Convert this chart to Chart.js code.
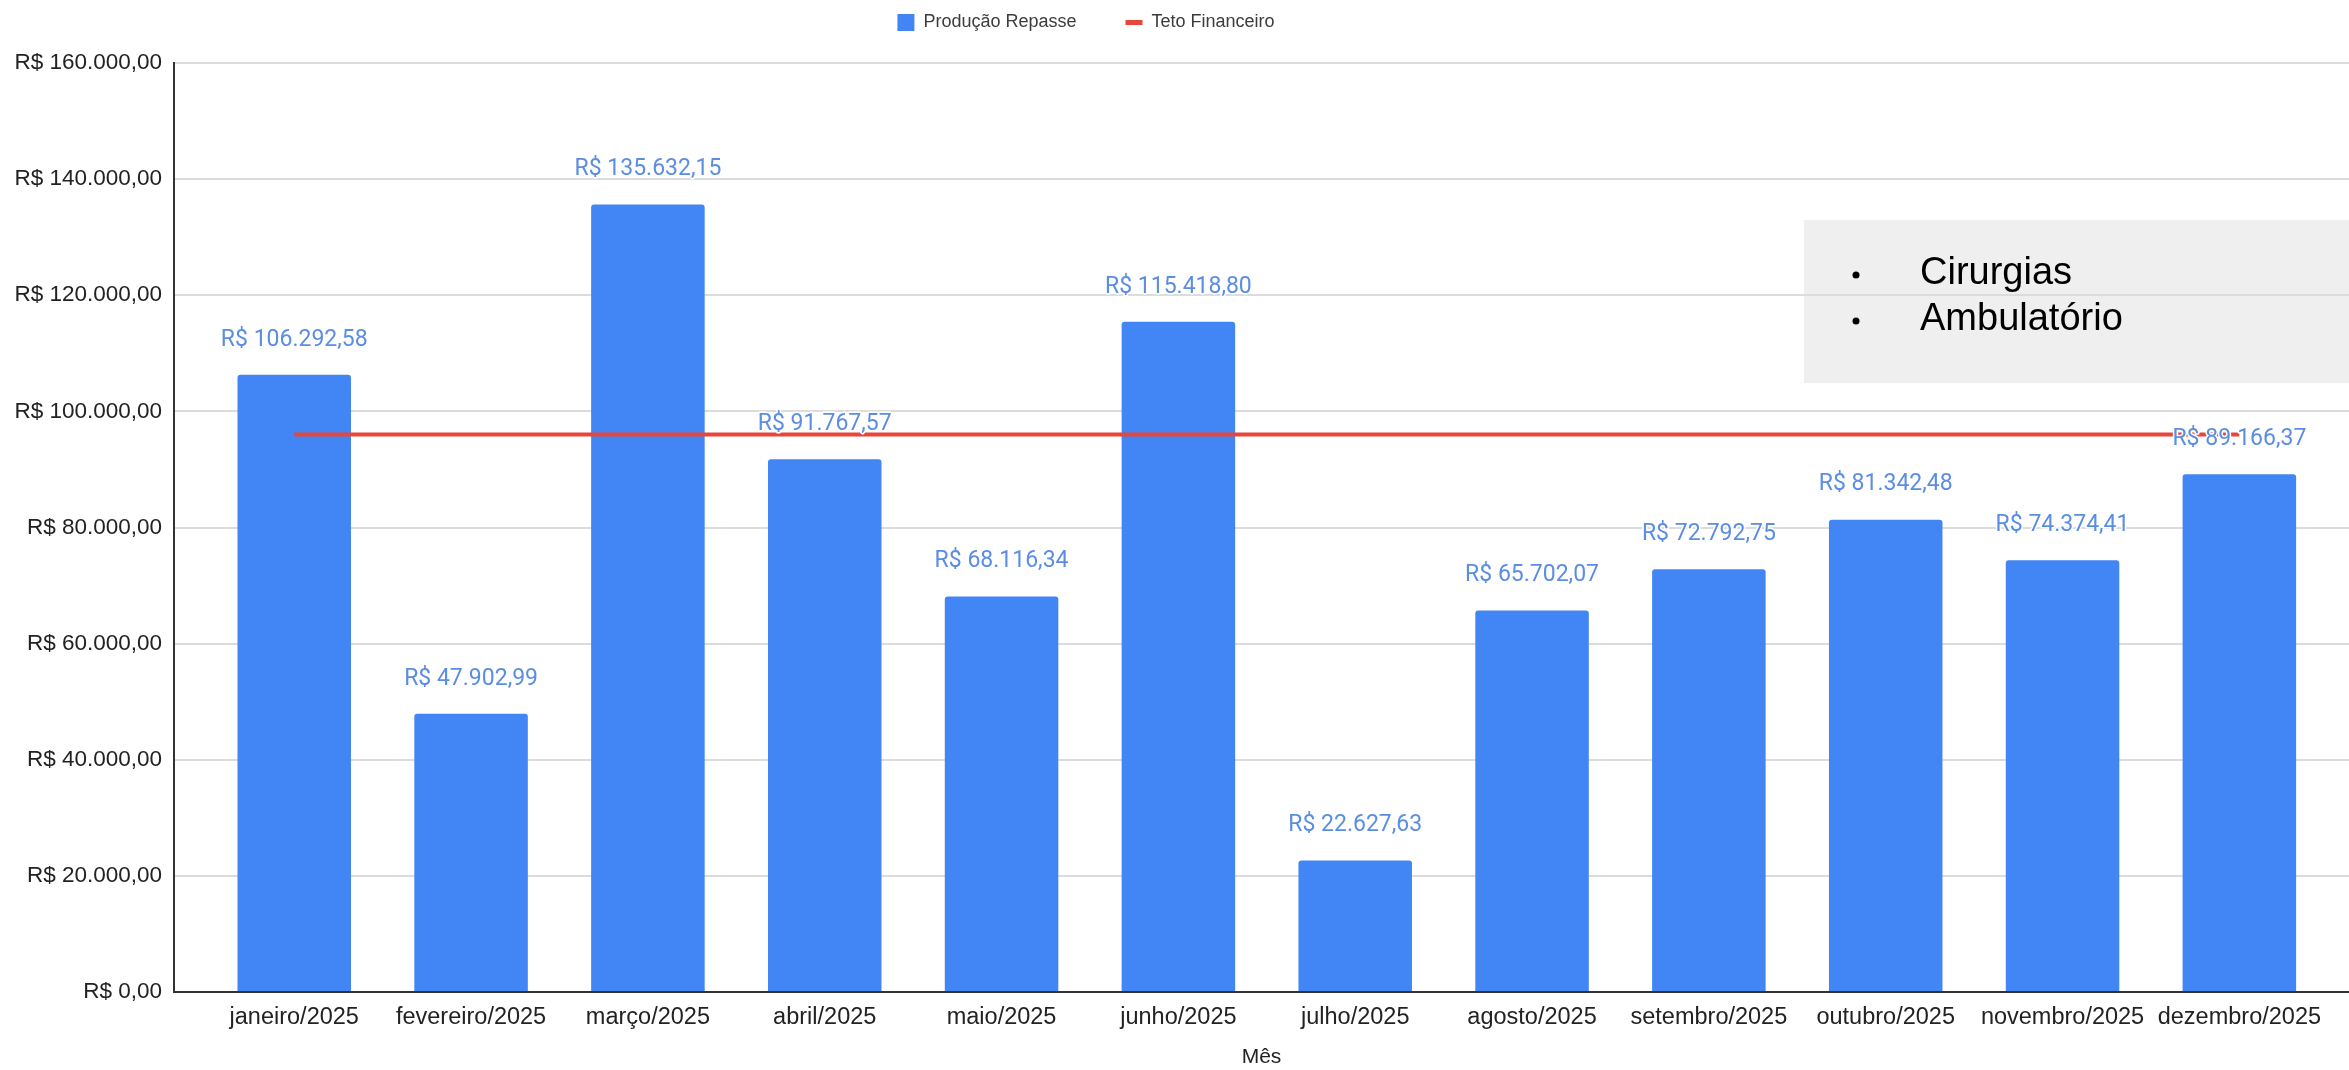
<!DOCTYPE html>
<html>
<head>
<meta charset="utf-8">
<script src="https://cdn.jsdelivr.net/npm/chart.js@4/dist/chart.umd.min.js"></script>
<style>
  html, body { margin: 0; padding: 0; background: #ffffff; }
  #wrap { width: 2349px; height: 1070px; position: relative; }
</style>
</head>
<body>
<div id="wrap"><canvas id="c" width="2349" height="1070"></canvas></div>
<script>
// ---- data ----
const months = ['janeiro/2025', 'fevereiro/2025', 'março/2025', 'abril/2025', 'maio/2025', 'junho/2025',
                'julho/2025', 'agosto/2025', 'setembro/2025', 'outubro/2025', 'novembro/2025', 'dezembro/2025'];
const producaoRepasse = [106292.58, 47902.99, 135632.15, 91767.57, 68116.34, 115418.80,
                         22627.63, 65702.07, 72792.75, 81342.48, 74374.41, 89166.37];
const tetoFinanceiro = [96000, 96000, 96000, 96000, 96000, 96000, 96000, 96000, 96000, 96000, 96000, 96000];
const yTickValues = [0, 20000, 40000, 60000, 80000, 100000, 120000, 140000, 160000];
const seriesNames = ['Produção Repasse', 'Teto Financeiro'];
const xAxisTitle = 'Mês';
const noteItems = ['Cirurgias', 'Ambulatório'];

// ---- helpers ----
function brl(v) {
  const s = Math.abs(v).toFixed(2);
  let [i, d] = s.split('.');
  i = i.replace(/\B(?=(\d{3})+(?!\d))/g, '.');
  return (v < 0 ? '-' : '') + 'R$ ' + i + ',' + d;
}

const BLUE = '#4285f4';
const RED = '#e8453c';
const SANS = '"Liberation Sans", Arial, sans-serif';
const PAD_LEFT = -177;
const PAD_TOP = -35.5;
const CHART_TOP = 63;
const CHART_LEFT = 174;

const legendHeightPlugin = {
  id: 'legendHeight',
  beforeLayout(chart) {
    const lg = chart.legend;
    if (lg && !lg.__patched) {
      const orig = lg.fit;
      lg.fit = function () { orig.call(this); this.height = CHART_TOP - PAD_TOP; };
      lg.__patched = true;
    }
  }
};

const noteBoxPlugin = {
  id: 'noteBox',
  beforeDraw(chart) {
    const ctx = chart.ctx;
    ctx.save();
    ctx.fillStyle = '#efefef';
    ctx.fillRect(1804, 220, 2349 - 1804, 163);
    ctx.fillStyle = '#000000';
    ctx.font = '38px ' + SANS;
    ctx.textAlign = 'left';
    ctx.textBaseline = 'alphabetic';
    noteItems.forEach((t, k) => {
      const base = 284 + k * 46;
      ctx.beginPath();
      ctx.arc(1856, base - 9, 3.5, 0, Math.PI * 2);
      ctx.fill();
      ctx.fillText(t, 1920, base);
    });
    ctx.restore();
  }
};

const dataLabelPlugin = {
  id: 'dataLabels',
  afterDatasetsDraw(chart) {
    const ctx = chart.ctx;
    const meta = chart.getDatasetMeta(0);
    ctx.save();
    ctx.font = '23px Roboto, "Noto Sans", sans-serif';
    ctx.textAlign = 'center';
    ctx.textBaseline = 'middle';
    ctx.lineJoin = 'round';
    meta.data.forEach((bar, i) => {
      const txt = brl(producaoRepasse[i]);
      ctx.strokeStyle = '#ffffff';
      ctx.lineWidth = 3;
      ctx.strokeText(txt, bar.x, bar.y - 35);
      ctx.fillStyle = '#5b8de2';
      ctx.fillText(txt, bar.x, bar.y - 35);
    });
    ctx.restore();
  }
};

const ctx = document.getElementById('c').getContext('2d');
new Chart(ctx, {
  type: 'bar',
  data: {
    datasets: [
      {
        label: seriesNames[0],
        data: producaoRepasse.map((v, i) => ({ x: i, y: v })),
        backgroundColor: BLUE,
        borderWidth: 0,
        borderRadius: { topLeft: 3, topRight: 3, bottomLeft: 0, bottomRight: 0 },
        borderSkipped: 'start',
        categoryPercentage: 1,
        barPercentage: 0.642,
        order: 2
      },
      {
        type: 'line',
        label: seriesNames[1],
        data: tetoFinanceiro.map((v, i) => ({ x: i, y: v })),
        borderColor: RED,
        backgroundColor: RED,
        borderWidth: 4,
        pointRadius: 0,
        pointHoverRadius: 0,
        fill: false,
        tension: 0,
        order: 1
      }
    ]
  },
  options: {
    responsive: false,
    devicePixelRatio: 1,
    animation: false,
    events: [],
    layout: { padding: { left: PAD_LEFT, top: PAD_TOP, right: 0, bottom: 0 } },
    scales: {
      x: {
        type: 'linear',
        min: -0.68,
        max: 11.62,
        offset: false,
        bounds: 'data',
        afterBuildTicks: (scale) => { scale.ticks = months.map((m, i) => ({ value: i })); },
        afterFit: (scale) => { scale.height = 78; },
        ticks: {
          autoSkip: false,
          maxRotation: 0,
          minRotation: 0,
          padding: 11,
          color: '#222222',
          font: { family: SANS, size: 23.5 },
          callback: (v) => months[v]
        },
        grid: { display: false, drawTicks: false },
        border: { display: true, color: '#333333', width: 2 },
        title: {
          display: true,
          text: xAxisTitle,
          color: '#222222',
          font: { family: SANS, size: 21 },
          padding: { top: 0, bottom: 0 }
        }
      },
      y: {
        min: 0,
        max: 160000,
        afterBuildTicks: (scale) => { scale.ticks = yTickValues.map(v => ({ value: v })); },
        afterFit: (scale) => { scale.width = CHART_LEFT - PAD_LEFT; },
        ticks: {
          padding: 12,
          color: '#222222',
          font: { family: SANS, size: 22.5 },
          callback: (v) => brl(v)
        },
        grid: { color: '#dcdcdc', lineWidth: 2, drawTicks: false },
        border: { display: true, color: '#333333', width: 2 }
      }
    },
    plugins: {
      tooltip: { enabled: false },
      title: { display: false },
      legend: {
        display: true,
        position: 'top',
        align: 'center',
        labels: {
          usePointStyle: true,
          pointStyleWidth: 17,
          boxHeight: 17,
          padding: 49,
          color: '#3c3c3c',
          font: { family: SANS, size: 18 },
          sort: (a, b) => a.datasetIndex - b.datasetIndex,
          generateLabels: (chart) => {
            const items = Chart.defaults.plugins.legend.labels.generateLabels(chart);
            items.forEach(it => {
              if (it.datasetIndex === 0) {
                it.pointStyle = 'rect'; it.lineWidth = 0; it.fillStyle = BLUE; it.strokeStyle = BLUE;
              } else {
                it.pointStyle = 'line'; it.lineWidth = 5; it.strokeStyle = RED; it.fillStyle = RED;
              }
            });
            return items;
          }
        }
      }
    }
  },
  plugins: [legendHeightPlugin, noteBoxPlugin, dataLabelPlugin]
});
</script>
</body>
</html>
